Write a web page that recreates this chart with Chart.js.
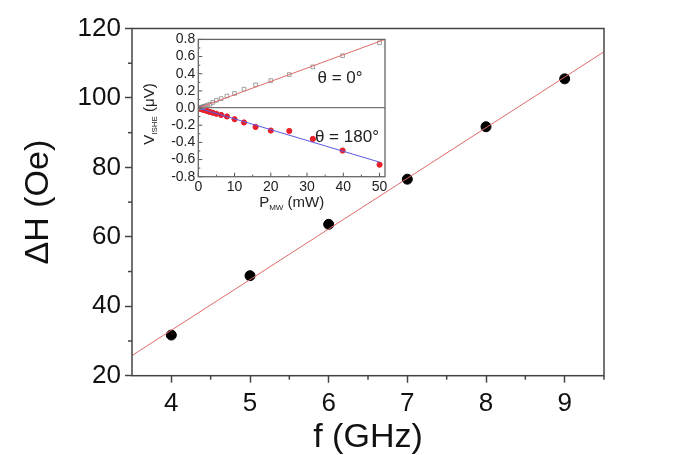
<!DOCTYPE html>
<html>
<head>
<meta charset="utf-8">
<script src="https://cdn.jsdelivr.net/npm/chart.js@4.4.1/dist/chart.umd.min.js"></script>
<style>
  html, body { margin: 0; padding: 0; background: #fff; }
  #contenedor { position: relative; width: 700px; height: 455px; }
  #principal { position: absolute; left: 0; top: 0; }
  #recuadro { position: absolute; left: 135px; top: 28px; }
</style>
</head>
<body>
<div id="contenedor">
  <canvas id="principal" width="700" height="455"></canvas>
  <canvas id="recuadro" width="260" height="187"></canvas>
</div>
<script>
// grafico principal: anchura de linea frente a frecuencia
const frecuencias = [4, 5, 6, 7, 8, 9];
const anchos = [31.7, 48.8, 63.6, 76.6, 91.7, 105.5];
const ajusteX = [3.5, 9.5];
const ajusteY = [25.8, 113.3];

// recuadro: V_ISHE frente a P_MW
const potencias = [50, 39.8, 31.6, 25.1, 20, 15.8, 12.6, 10, 7.9, 6.3, 5, 4, 3.2, 2.5, 2, 1.6, 1.3, 1, 0.8, 0.6, 0.5];
const voltaje0 = [0.76, 0.61, 0.48, 0.39, 0.32, 0.27, 0.22, 0.17, 0.14, 0.11, 0.09, 0.065, 0.045, 0.035, 0.025, 0.02, 0.015, 0.01, 0.008, 0.005, 0.003];
const voltaje180 = [-0.66, -0.495, -0.36, -0.267, -0.262, -0.22, -0.168, -0.13, -0.098, -0.08, -0.067, -0.055, -0.045, -0.035, -0.028, -0.022, -0.018, -0.013, -0.01, -0.007, -0.005];
const recta0X = [0, 51.5];
const recta0Y = [0, 0.8];
const recta180X = [0, 50];
const recta180Y = [0, -0.63];

const fuente = '"Liberation Sans", Arial, sans-serif';
Chart.defaults.font.family = fuente;

function puntos(xs, ys) {
  return xs.map((x, i) => ({ x: x, y: ys[i] }));
}

function marco(chart, color, grosor) {
  const a = chart.chartArea;
  const ctx = chart.ctx;
  ctx.save();
  ctx.strokeStyle = color;
  ctx.lineWidth = grosor;
  ctx.strokeRect(a.left, a.top, a.right - a.left, a.bottom - a.top);
  ctx.restore();
}

function marcas(ctx, escala, valores, horizontal, desde, largo) {
  valores.forEach((v) => {
    const p = escala.getPixelForValue(v);
    ctx.beginPath();
    if (horizontal) {
      ctx.moveTo(p, desde);
      ctx.lineTo(p, desde + largo);
    } else {
      ctx.moveTo(desde, p);
      ctx.lineTo(desde + largo, p);
    }
    ctx.stroke();
  });
}

function textoPartes(ctx, partes, x, y) {
  let total = 0;
  partes.forEach((p) => {
    ctx.font = p.tam + "px " + fuente;
    total += ctx.measureText(p.t).width;
  });
  let cx = x - total / 2;
  ctx.textAlign = "left";
  partes.forEach((p) => {
    ctx.font = p.tam + "px " + fuente;
    ctx.fillText(p.t, cx, y + p.dy);
    cx += ctx.measureText(p.t).width;
  });
}

const pluginPrincipal = {
  id: "principal",
  afterDraw(chart) {
    const ctx = chart.ctx;
    const a = chart.chartArea;
    const x = chart.scales.x;
    const y = chart.scales.y;
    ctx.save();
    ctx.strokeStyle = "#444";
    ctx.lineWidth = 1.5;
    let menoresX = [];
    for (let v = 4.5; v <= 9.5; v += 1) menoresX.push(v);
    let menoresY = [];
    for (let v = 30; v <= 110; v += 20) menoresY.push(v);
    marcas(ctx, x, menoresX, true, a.bottom, 4);
    marcas(ctx, y, menoresY, false, a.left - 4, 4);
    ctx.restore();
    marco(chart, "#444", 1.5);
  },
};

new Chart(document.getElementById("principal"), {
  type: "scatter",
  data: {
    datasets: [
      {
        type: "line",
        data: puntos(ajusteX, ajusteY),
        borderColor: "#e06a6a",
        borderWidth: 1,
        pointRadius: 0,
      },
      {
        data: puntos(frecuencias, anchos),
        backgroundColor: "#000",
        borderColor: "#000",
        pointRadius: 5,
      },
    ],
  },
  options: {
    responsive: false,
    animation: false,
    layout: { padding: { top: 28.5, right: 96, left: 0, bottom: 0 } },
    plugins: { legend: { display: false }, tooltip: { enabled: false } },
    scales: {
      x: {
        type: "linear",
        min: 3.5,
        max: 9.5,
        afterBuildTicks: (s) => {
          s.ticks = frecuencias.map((v) => ({ value: v }));
        },
        ticks: { autoSkip: false, color: "#111", font: { size: 26 }, padding: 6 },
        grid: { drawOnChartArea: false, tickLength: 7, tickColor: "#444", tickWidth: 1.5 },
        border: { display: false },
        title: { display: true, text: "f (GHz)", color: "#111", font: { size: 34, lineHeight: 1 }, padding: 0 },
        afterFit: (s) => { s.height = 79.3; },
      },
      y: {
        min: 20,
        max: 120,
        ticks: { stepSize: 20, includeBounds: false, autoSkip: false, color: "#111", font: { size: 26 }, padding: 4 },
        grid: { drawOnChartArea: false, tickLength: 7, tickColor: "#444", tickWidth: 1.5 },
        border: { display: false },
        title: { display: true, text: "ΔH (Oe)", color: "#111", font: { size: 34, lineHeight: 1 }, padding: { top: 22, bottom: 0 } },
        afterFit: (s) => { s.width = 132; },
      },
    },
  },
  plugins: [pluginPrincipal],
});

const pluginRecuadro = {
  id: "recuadro",
  afterDraw(chart) {
    const ctx = chart.ctx;
    const a = chart.chartArea;
    const x = chart.scales.x;
    const y = chart.scales.y;
    ctx.save();
    ctx.strokeStyle = "#555";
    ctx.lineWidth = 1;
    let mayX = [], menX = [], mayY = [], menY = [];
    for (let v = 0; v <= 50; v += 10) mayX.push(v);
    for (let v = 5; v <= 50; v += 10) menX.push(v);
    for (let i = -8; i <= 8; i += 2) mayY.push(i / 10);
    for (let i = -7; i <= 7; i += 2) menY.push(i / 10);
    marcas(ctx, x, mayX, true, a.bottom, -4);
    marcas(ctx, x, menX, true, a.bottom, -2);
    marcas(ctx, y, mayY, false, a.left, 4);
    marcas(ctx, y, menY, false, a.left, 2);
    ctx.restore();
    marco(chart, "#666", 1.3);

    ctx.save();
    ctx.fillStyle = "#222";
    ctx.textBaseline = "middle";
    ctx.textAlign = "center";
    ctx.font = "17px " + fuente;
    ctx.fillText("θ = 0°", x.getPixelForValue(39.1), y.getPixelForValue(0.343));
    ctx.fillText("θ = 180°", x.getPixelForValue(41), y.getPixelForValue(-0.343));

    textoPartes(ctx, [
      { t: "P", tam: 15, dy: 0 },
      { t: "MW", tam: 8, dy: 5 },
      { t: " (mW)", tam: 15, dy: 0 },
    ], (a.left + a.right) / 2, a.bottom + 26);

    ctx.translate(15, (a.top + a.bottom) / 2 + 6);
    ctx.rotate(-Math.PI / 2);
    textoPartes(ctx, [
      { t: "V", tam: 15, dy: 0 },
      { t: "ISHE", tam: 8, dy: 5 },
      { t: " (μV)", tam: 15, dy: 0 },
    ], 0, 0);
    ctx.restore();
  },
};

new Chart(document.getElementById("recuadro"), {
  type: "scatter",
  data: {
    datasets: [
      {
        type: "line",
        data: puntos(recta0X, recta0Y),
        borderColor: "#e06a6a",
        borderWidth: 1,
        pointRadius: 0,
      },
      {
        type: "line",
        data: puntos(recta180X, recta180Y),
        borderColor: "#5a5ae0",
        borderWidth: 1,
        pointRadius: 0,
      },
      {
        data: puntos(potencias, voltaje0),
        pointStyle: "rect",
        backgroundColor: "rgba(255,255,255,0)",
        borderColor: "#888",
        borderWidth: 0.8,
        pointRadius: 2.6,
      },
      {
        data: puntos(potencias, voltaje180),
        backgroundColor: "#e8202a",
        borderColor: "#e8202a",
        pointRadius: 2.6,
      },
    ],
  },
  options: {
    responsive: false,
    animation: false,
    layout: { padding: { top: 8.7, right: 10, left: 0, bottom: 0 } },
    plugins: { legend: { display: false }, tooltip: { enabled: false } },
    scales: {
      x: {
        type: "linear",
        min: 0,
        max: 51.5,
        ticks: { stepSize: 10, includeBounds: false, autoSkip: false, color: "#222", font: { size: 14 }, padding: 2 },
        grid: { drawOnChartArea: false, drawTicks: false },
        border: { display: false },
        afterFit: (s) => { s.height = 38.3; },
      },
      y: {
        min: -0.8,
        max: 0.8,
        ticks: {
          stepSize: 0.2,
          includeBounds: false,
          autoSkip: false,
          color: "#222",
          font: { size: 14 },
          padding: 3,
          callback: (v) => (Math.abs(v) < 1e-9 ? "0.0" : Number(v).toFixed(1)),
        },
        grid: {
          drawTicks: false,
          lineWidth: 1.3,
          color: (c) => (c.tick && Math.abs(c.tick.value) < 1e-9 ? "#777" : "rgba(0,0,0,0)"),
        },
        border: { display: false },
        afterFit: (s) => { s.width = 63.3; },
      },
    },
  },
  plugins: [pluginRecuadro],
});
</script>
</body>
</html>
